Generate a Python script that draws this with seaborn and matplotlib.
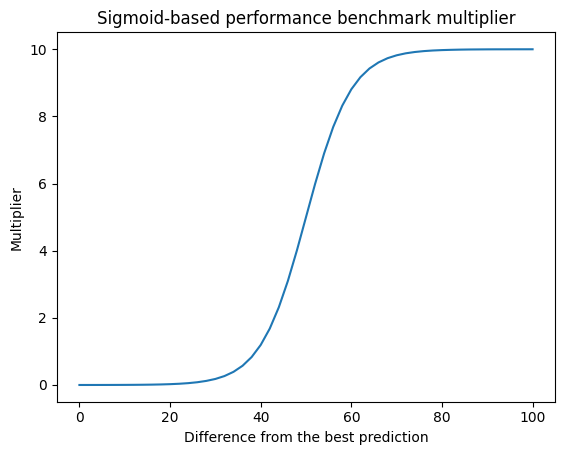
import matplotlib
matplotlib.use('Agg')
import matplotlib.pyplot as plt
import seaborn as sns
import pandas as pd

difference = list(range(0, 101, 2))
multiplier = [0.0005, 0.0007, 0.0010, 0.0015, 0.0023, 0.0034, 0.0050, 0.0075, 0.0111, 0.0166,
              0.0247, 0.0369, 0.0550, 0.0820, 0.1220, 0.1799, 0.2660, 0.3920, 0.5730, 0.8320,
              1.192, 1.680, 2.315, 3.100, 4.013, 5.0, 5.987, 6.900, 7.685, 8.320,
              8.808, 9.168, 9.427, 9.608, 9.734, 9.820, 9.879, 9.918, 9.945, 9.963,
              9.975, 9.983, 9.989, 9.993, 9.995, 9.997, 9.998, 9.998, 9.999, 9.999, 9.9995]

df = pd.DataFrame({'diff': difference, 'mult': multiplier})

fig = plt.figure(figsize=(5.62, 4.55), dpi=100)
ax = fig.add_subplot(111)
fig.subplots_adjust(left=0.101, right=0.988, top=0.9286, bottom=0.117)
sns.lineplot(data=df, x='diff', y='mult', ax=ax, color='#1f77b4')
ax.set_title('Sigmoid-based performance benchmark multiplier')
ax.set_xlabel('Difference from the best prediction')
ax.set_ylabel('Multiplier')
fig.savefig('out.png', dpi=100)
